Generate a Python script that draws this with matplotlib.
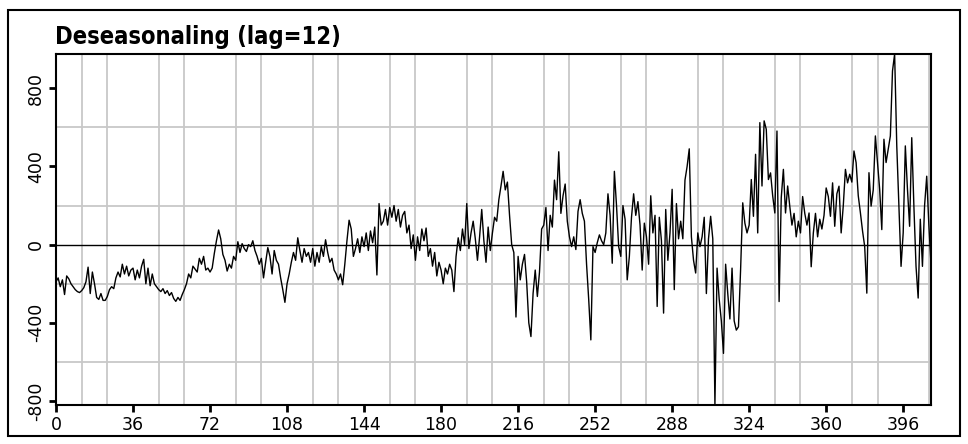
import matplotlib
matplotlib.use("Agg")
import matplotlib.pyplot as plt
from matplotlib.patches import Rectangle
from matplotlib import font_manager
import numpy as np

# Deseasonalized series (lag 12), one row per 12 periods
residuals = [
    -190, -170, -215, -180, -255, -160, -175, -200, -215, -230, -240, -245,
    -235, -220, -190, -115, -250, -140, -200, -270, -280, -250, -285, -285,
    -265, -230, -215, -225, -170, -140, -165, -100, -150, -110, -160, -130,
    -120, -180, -130, -170, -110, -75, -200, -120, -210, -150, -200, -215,
    -230, -240, -225, -250, -235, -260, -245, -275, -290, -270, -285, -255,
    -230, -200, -150, -170, -110, -125, -140, -70, -100, -60, -130, -120,
    -140, -120, -45, 20, 75, 30, -50, -80, -135, -100, -120, -60,
    -80, 15, -40, 5, -20, -35, 0, -10, 20, -30, -60, -100,
    -70, -170, -90, -15, -60, -150, -30, -80, -100, -170, -230, -295,
    -200, -150, -90, -40, -80, 35, -30, -90, -20, -60, -40, -90,
    -20, -110, -40, -90, -10, -60, 25, -40, -90, -70, -130, -150,
    -180, -150, -205, -100, 20, 125, 80, -60, -20, 30, -40, 40,
    -10, 60, -30, 70, 10, 90, -155, 210, 100, 120, 180, 100,
    190, 140, 200, 120, 180, 90, 150, 170, 60, 100, -20, 50,
    -80, 40, -30, 80, 20, 85, -60, -20, -110, -40, -160, -90,
    -130, -200, -120, -150, -100, -130, -240, -60, 35, -30, 80, 0,
    210, -20, 60, 120, 30, -80, 40, 180, 20, -90, 90, -30,
    60, 140, 120, 230, 300, 375, 280, 320, 150, 0, -40, -370,
    -60, -180, -100, -50, -190, -400, -470, -250, -130, -265, -140, 80,
    100, 190, -30, 150, 90, 330, 230, 475, 160, 250, 310, 120,
    40, -10, 40, -25, 170, 230, 160, 120, -100, -280, -487, -10,
    -40, 10, 50, 20, 0, 60, 260, 150, -95, 375, 200, -10,
    -60, 200, 130, -180, -60, 140, 260, 150, 220, 100, -130, 110,
    40, -100, 250, 60, 150, -316, 140, 20, -350, 180, -80, 60,
    283, -230, 210, 30, 120, 30, 330, 400, 490, 40, -80, -145,
    60, -10, 40, 140, -250, 30, 145, 30, -820, -120, -280, -390,
    -556, -100, -250, -380, -120, -390, -437, -420, -128, 214, 110, 60,
    100, 333, 145, 462, 60, 624, 300, 633, 590, 333, 367, 250,
    162, 581, -291, 240, 385, 162, 300, 195, 100, 160, 40, 120,
    60, 246, 160, 100, 162, -113, 60, 160, 40, 130, 80, 150,
    290, 246, 145, 316, 94, 260, 299, 60, 200, 385, 316, 360,
    320, 479, 419, 250, 163, 70, -9, -248, 368, 197, 280, 556,
    420, 283, 77, 539, 420, 488, 556, 888, 975, 505, 197, -111,
    60, 505, 283, 94, 547, 197, -111, -273, 130, -111, 200, 350,
    100, -100,
]

x_ticks = [0, 36, 72, 108, 144, 180, 216, 252, 288, 324, 360, 396]
y_ticks = [-800, -400, 0, 400, 800]
title = "Deseasonaling (lag=12)"


def narrow_bold_font(size):
    """Pick a condensed bold face if one is installed, else a compact sans."""
    for fam in ["Liberation Sans Narrow", "DejaVu Sans"]:
        fp = font_manager.FontProperties(family=fam, weight="bold",
                                         stretch="condensed")
        try:
            path = font_manager.findfont(fp, fallback_to_default=False)
        except Exception:
            continue
        low = path.lower()
        if "narrow" in low or "condensed" in low:
            return font_manager.FontProperties(fname=path, size=size)
    return font_manager.FontProperties(family="Roboto", weight="bold", size=size)


W, H = 968, 444
fig = plt.figure(figsize=(W / 100, H / 100), dpi=100)
fig.patch.set_facecolor("white")

# outer border of the chart panel
fig.patches.append(Rectangle((8 / W, 8 / H), (W - 16) / W, (H - 18) / H,
                             transform=fig.transFigure, fill=False,
                             edgecolor="black", linewidth=1.5))

ax = fig.add_axes([56 / W, 39 / H, 875 / W, 351 / H])
t = np.arange(len(residuals))
vals = np.array(residuals, dtype=float)

ax.set_xlim(0, len(residuals) - 1)
ax.set_ylim(vals.min(), vals.max())

# grid: every 12 periods vertically, every 200 units horizontally
ax.set_xticks(np.arange(0, len(residuals), 12), minor=True)
ax.set_yticks(np.arange(-800, 1000, 200), minor=True)
ax.grid(which="minor", color="#c8c8c8", linewidth=1.3)
ax.set_axisbelow(True)
ax.tick_params(which="minor", length=0)

ax.axhline(0, color="black", linewidth=1.0, zorder=2)
ax.plot(t, vals, color="black", linewidth=1.0, zorder=3)

ax.set_xticks(x_ticks)
ax.set_xticklabels([str(v) for v in x_ticks])
ax.set_yticks(y_ticks)
ax.set_yticklabels([str(v) for v in y_ticks], rotation=90, va="center")
ax.tick_params(which="major", direction="out", length=5, width=2,
               labelsize=12.5, pad=3, color="black")

for s in ax.spines.values():
    s.set_linewidth(1.5)
    s.set_color("black")

fig.text(55 / W, 1 - 44 / H, title, ha="left", va="baseline",
         fontproperties=narrow_bold_font(17))

fig.savefig("out.png", dpi=100)
